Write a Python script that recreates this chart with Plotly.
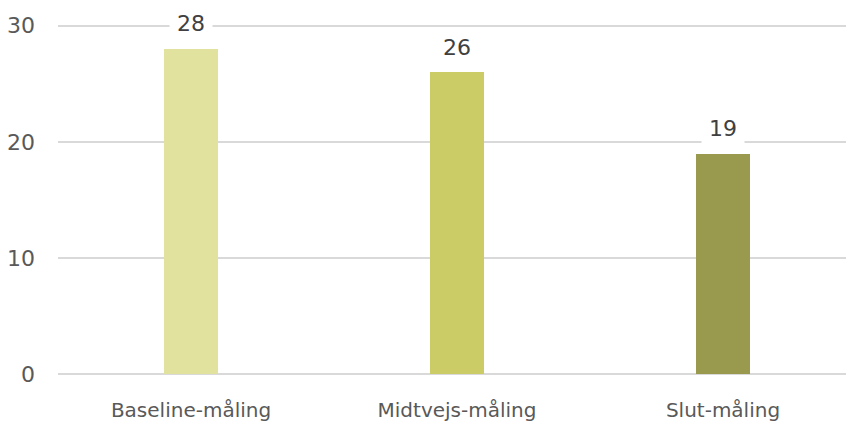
import plotly.graph_objects as go

categories = ["Baseline-måling", "Midtvejs-måling", "Slut-måling"]
values = [28, 26, 19]
bar_colors = ["#E2E29F", "#CCCC66", "#9A9A4E"]
y_ticks = [0, 10, 20, 30]

fig = go.Figure()
fig.add_trace(go.Bar(
    x=categories, y=values,
    marker=dict(color=bar_colors, line=dict(width=0)),
    width=0.203,
    hoverinfo="skip",
))

for c, v in zip(categories, values):
    fig.add_annotation(
        x=c, y=v, text=str(v), showarrow=False,
        yshift=25, yanchor="middle",
        font=dict(family="DejaVu Sans", size=22, color="#404040"),
        bgcolor="white", borderpad=3, width=36,
    )

fig.update_layout(
    width=846, height=422,
    margin=dict(l=58, r=0, t=24, b=42),
    paper_bgcolor="white", plot_bgcolor="white",
    showlegend=False,
    bargap=0,
    xaxis=dict(
        type="category",
        range=[-0.5, 2.4624],
        showgrid=False, zeroline=False, showline=False,
        ticks="", tickfont=dict(family="DejaVu Sans", size=20, color="#595959"),
        ticklabelstandoff=20,
    ),
    yaxis=dict(
        range=[-0.15, 30.15],
        tickvals=y_ticks,
        showgrid=True, gridcolor="#D9D9D9", gridwidth=1.5,
        zeroline=True, zerolinecolor="#D9D9D9", zerolinewidth=1.5,
        showline=False,
        ticks="", tickfont=dict(family="DejaVu Sans", size=22, color="#595959"),
        ticklabelstandoff=22,
    ),
)

fig.write_html(
    "out.html",
    config={"displayModeBar": False},
    post_script="document.body.style.margin='0';document.body.style.overflow='hidden';",
)
